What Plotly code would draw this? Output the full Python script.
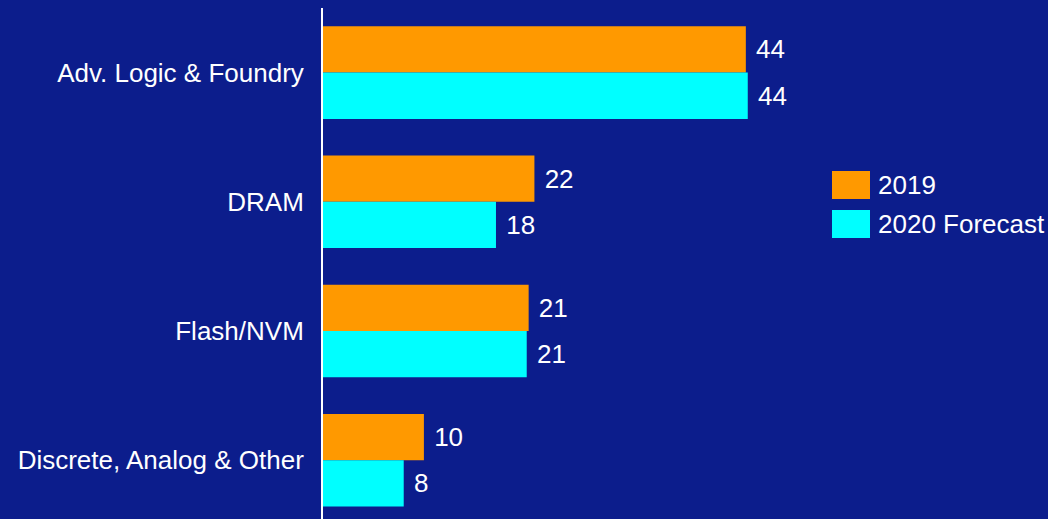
import plotly.graph_objects as go

categories = ["Adv. Logic & Foundry", "DRAM", "Flash/NVM", "Discrete, Analog & Other"]
series_names = ["2019", "2020 Forecast"]
values_2019 = [44.0, 22.0, 21.4, 10.5]
values_2020 = [44.2, 18.0, 21.2, 8.4]
labels_2019 = ["44", "22", "21", "10"]
labels_2020 = ["44", "18", "21", "8"]
colors = ["#FF9900", "#00FFFF"]

BG = "#0c1d8c"
FONT = "Arial, Liberation Sans, sans-serif"

fig = go.Figure()
for name, vals, labs, col in [(series_names[0], values_2019, labels_2019, colors[0]),
                              (series_names[1], values_2020, labels_2020, colors[1])]:
    fig.add_trace(go.Bar(
        name=name, y=categories, x=vals, orientation="h",
        marker=dict(color=col, line=dict(width=0)),
        text=labs, texttemplate=" %{text}", textposition="outside",
        textfont=dict(color="white", size=26, family=FONT),
        cliponaxis=False,
    ))

W, H = 1048, 519
ml, mt = 323, 8
pw, ph = W - ml, H - mt

def px_x(p):
    return (p - ml) / pw

def px_y(p):
    return (H - p) / ph

# custom legend (larger swatches like reference)
shapes = []
annotations = []
sw_top = [171, 210]
for i, (name, col) in enumerate(zip(series_names, colors)):
    y0, y1 = sw_top[i], sw_top[i] + 28
    shapes.append(dict(type="rect", xref="paper", yref="paper",
                       x0=px_x(832), x1=px_x(870), y0=px_y(y1), y1=px_y(y0),
                       fillcolor=col, line=dict(width=0)))
    annotations.append(dict(xref="paper", yref="paper", x=px_x(876), y=px_y((y0 + y1) / 2),
                            text=name, showarrow=False, xanchor="left", yanchor="middle",
                            font=dict(color="white", size=26, family=FONT)))

fig.update_layout(
    width=W, height=H,
    margin=dict(l=ml, r=0, t=mt, b=0, pad=0),
    paper_bgcolor=BG, plot_bgcolor=BG,
    barmode="group", bargap=0.283, bargroupgap=0,
    showlegend=False,
    font=dict(family=FONT, color="white", size=26),
    shapes=shapes, annotations=annotations,
    xaxis=dict(range=[0, pw / 9.61], showgrid=False, zeroline=False, showline=False,
               showticklabels=False, ticks=""),
    yaxis=dict(type="category", range=[3.455, -0.5], showgrid=False, zeroline=False,
               showline=True, linecolor="white", linewidth=2, ticks="",
               ticklabelstandoff=12,
               tickfont=dict(color="white", size=26, family=FONT)),
)

fig.write_html("out.html")
